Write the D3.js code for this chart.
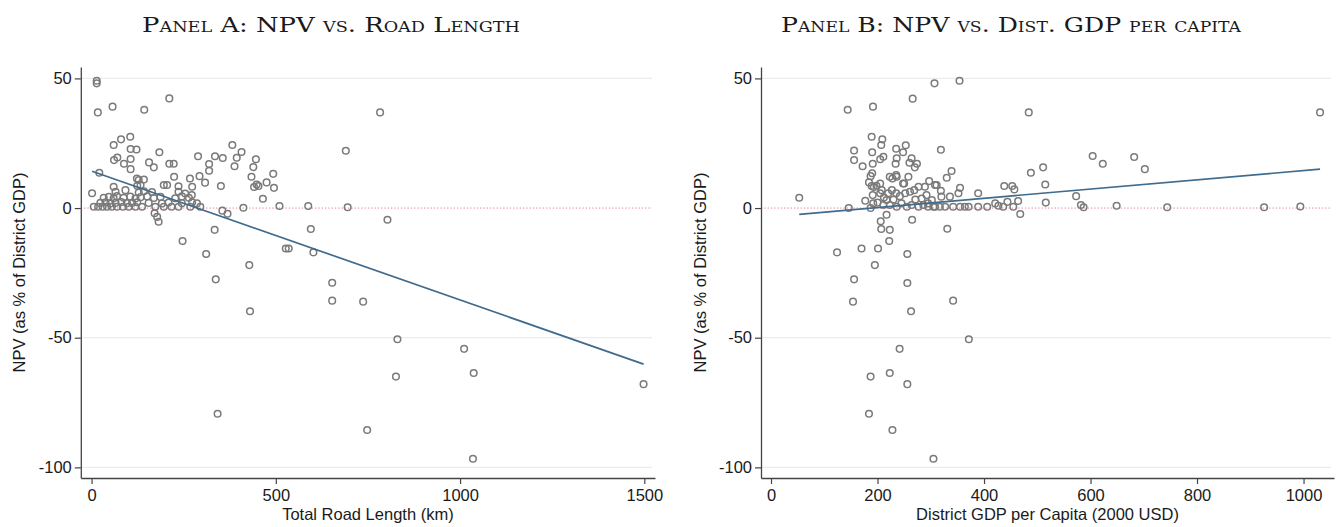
<!DOCTYPE html>
<html>
<head>
<meta charset="utf-8">
<script src="https://cdn.jsdelivr.net/npm/d3@7"></script>
<style>
  body { margin: 0; background: #fff; }
  svg text { font-family: "Liberation Sans", Arial, sans-serif; fill: #1a1a1a; }
  .title { font-family: "DejaVu Serif", "Liberation Serif", serif !important; font-variant: small-caps; }
</style>
</head>
<body>
<svg id="chart"></svg>
<script>
// Panel A: total road length (km) vs NPV (% of district GDP)
const roadLength = [14,14,17,57,143,211,60,80,105,106,122,184,61,70,88,106,106,156,169,211,223,21,123,224,289,335,356,319,319,382,407,394,388,446,439,493,434,448,441,453,475,495,465,510,588,595,267,293,308,351,355,369,412,334,247,311,527,535,602,428,337,653,430,653,737,830,1011,1037,826,1498,342,748,1035,783,690,695,803,
  6,18,30,42,55,69,85,101,119,137,173,196,217,236,268,295,
  24,38,51,65,81,96,110,124,155,191,209,245,273,286,
  33,47,60,69,87,105,119,133,151,169,187,227,245,264,
  1.4,65,92,128,142,164,236,254,272,
  60,124,133,196,205,236,273,
  128,142,
  171,178,182];
const npvA = [49.1,48.1,36.9,39.1,37.9,42.3,24.3,26.5,27.5,22.8,22.6,21.5,18.5,19.5,17.1,18.9,15,17.6,15.7,17.1,17.1,13.6,11.4,12.1,20,20,19.3,17,14.4,24.3,21.6,19.4,16.1,18.8,15.8,13.2,12.1,9.1,8.1,8.5,9.9,7.8,3.6,0.8,0.8,-8.1,11.4,12.3,9.8,8.5,-1,-2.2,0.1,-8.4,-12.7,-17.7,-15.6,-15.6,-17.1,-22,-27.5,-28.8,-39.8,-35.7,-36.1,-50.6,-54.3,-63.6,-65,-67.9,-79.3,-85.6,-96.7,36.9,22.1,0.3,-4.5,
  0.5,0.5,0.5,0.5,0.5,0.5,0.5,0.5,0.5,0.5,0.5,0.5,0.5,0.5,0.5,0.5,
  2,2.2,1.8,2,2.3,1.9,2,2.2,2,1.8,2.1,1.9,2.2,1.8,
  4,4.3,3.8,4.6,4,4.4,3.7,4.2,4.5,3.9,4.3,3.8,4.5,4,
  5.7,6.3,6.9,6,6.5,6.2,6.3,5.6,5,
  8.2,8.6,8.9,8.9,8.9,8.4,8.2,
  10.8,11,
  -2,-3.4,-5.3];
const fitA = [[1.4, 14.2], [1498, -60.2]];

// Panel B: district GDP per capita (2000 USD) vs NPV
const gdpPerCapita = [53,144,191.5,266,307,354,484,1031,
  189,209,207,156,156,190,235,253,248,319,211,205,191,172,236,234,264,260,274,270,339,330,190,187,228,236,258,184,198,193,250,208,191,177,297,308,319,289,355,389,438,453,457,464,468,146,187,217,265,206,207,223,331,222,364,371,389,406,421,427,436,604,623,682,702,511,488,515,516,444,573,582,587,649,744,926,994,
  124,170,201,256,195,156,256,154,342,263,371.5,241.5,223,187,256,184,228,305,
  189,205,205,212,220,227,235,242,252,261,269,277,311,223,235,248,
  192,200,211,223,236,245,255,264,277,286,295,308,217,230,271,283,302,
  292,295,305,317,327,342,355,320,336,352,455];
const npvB = [4.0,37.9,39.1,42.2,48.1,49.1,36.9,36.9,
  27.5,26.5,24.3,22.2,18.5,21.5,22.9,24.2,21.5,22.5,19.8,18.8,17.1,16.1,19.2,17.1,19.2,17.5,17.1,15.7,14.3,11.7,13.4,12.3,11.4,12.1,12.1,9.9,8.6,8.1,9.5,6.9,5.0,2.8,10.4,8.9,6.7,8.2,7.8,5.7,8.5,8.5,7.2,2.7,-2.3,0,0,-2.6,-4.5,-5.1,-8.1,-8.4,-8,-12.7,0.5,0.5,0.5,0.5,1.8,0.9,0.5,20.1,17.1,19.7,15.0,15.7,13.6,9.1,2.1,2.4,4.6,1.2,0.3,0.9,0.3,0.3,0.6,
  -17.1,-15.6,-15.6,-17.7,-22,-27.5,-28.9,-36.1,-35.7,-39.8,-50.6,-54.3,-63.6,-65,-67.9,-79.3,-85.6,-96.7,
  8.5,9.5,5.7,4.1,5.7,6.9,5.7,4.6,5.7,6.3,6.9,8.2,8.9,12.1,12.7,9.5,
  1.8,2.1,1.2,1.2,0.5,1.8,0.5,1.2,0.5,1.2,0.5,0.5,3.1,3.3,3.3,3.7,3.1,
  5.0,1.8,0.5,0.5,0.5,0.5,0.5,4.4,4.4,5.7,0.5];
const fitB = [[53, -2.4], [1031, 15.0]];

const yTicks = [-100, -50, 0, 50];
const xTicksA = [0, 500, 1000, 1500];
const xTicksB = [0, 200, 400, 600, 800, 1000];

const titleA = "Panel A: NPV vs. Road Length";
const titleB = "Panel B: NPV vs. Dist. GDP per capita";
const yLabel = "NPV (as % of District GDP)";
const xLabelA = "Total Road Length (km)";
const xLabelB = "District GDP per Capita (2000 USD)";

const svg = d3.select('#chart')
    .attr('width', 1340)
    .attr('height', 527);

function drawPanel(cfg) {
    const xs = d3.scaleLinear().domain(cfg.xdomain).range([cfg.left, cfg.right]);
    const ys = d3.scaleLinear().domain([-104.1, 54.4]).range([cfg.bottom, cfg.top]);
    const g = svg.append('g');

    // grid lines
    g.selectAll('.grid')
        .data(yTicks.filter(d => d !== 0))
        .join('line')
        .attr('x1', cfg.left).attr('x2', cfg.right - 3)
        .attr('y1', d => ys(d)).attr('y2', d => ys(d))
        .attr('stroke', '#ececec')
        .attr('stroke-width', 1.2);

    // zero reference line
    g.append('line')
        .attr('x1', cfg.left).attr('x2', cfg.right - 3)
        .attr('y1', ys(0)).attr('y2', ys(0))
        .attr('stroke', '#e3808f')
        .attr('stroke-width', 1)
        .attr('stroke-dasharray', '1.3,2');

    // axes
    const fmt = d => String(d);
    const yaxis = d3.axisLeft(ys).tickValues(yTicks).tickFormat(fmt)
        .tickSize(6).tickSizeOuter(0).tickPadding(3);
    const xaxis = d3.axisBottom(xs).tickValues(cfg.xticks).tickFormat(fmt)
        .tickSize(6).tickSizeOuter(0).tickPadding(5);

    const ya = g.append('g')
        .attr('transform', `translate(${cfg.left}, 0)`)
        .call(yaxis);
    const xa = g.append('g')
        .attr('transform', `translate(0, ${cfg.bottom})`)
        .call(xaxis);
    [ya, xa].forEach(a => {
        a.select('.domain').attr('stroke', '#444').attr('stroke-width', 1.3);
        a.selectAll('.tick line').attr('stroke', '#444').attr('stroke-width', 1.2);
        a.selectAll('.tick text')
            .attr('font-size', 16.5)
            .attr('font-family', '"Liberation Sans", Arial, sans-serif')
            .attr('fill', '#1a1a1a');
    });

    // points
    g.selectAll('.pt')
        .data(d3.zip(cfg.xvals, cfg.yvals))
        .join('circle')
        .attr('cx', d => xs(d[0]))
        .attr('cy', d => ys(d[1]))
        .attr('r', 3.3)
        .attr('fill', 'none')
        .attr('stroke', '#7a7a7a')
        .attr('stroke-width', 1.5);

    // fitted line
    g.append('path')
        .attr('d', d3.line().x(d => xs(d[0])).y(d => ys(d[1]))(cfg.fit))
        .attr('fill', 'none')
        .attr('stroke', '#3f6b8e')
        .attr('stroke-width', 1.7);

    // labels
    g.append('text')
        .attr('class', 'title')
        .attr('x', cfg.titleX).attr('y', 32)
        .attr('text-anchor', 'middle')
        .attr('font-size', 20.5)
        .attr('textLength', cfg.titleW)
        .attr('lengthAdjust', 'spacingAndGlyphs')
        .text(cfg.title);

    g.append('text')
        .attr('x', (cfg.left + cfg.right) / 2).attr('y', 520)
        .attr('text-anchor', 'middle')
        .attr('font-size', 16.5)
        .text(cfg.xlabel);

    g.append('text')
        .attr('transform', `translate(${cfg.ylabelX}, ${(cfg.top + cfg.bottom) / 2}) rotate(-90)`)
        .attr('text-anchor', 'middle')
        .attr('dy', '0.35em')
        .attr('font-size', 16.5)
        .text(yLabel);
}

drawPanel({
    left: 80.8, right: 655, top: 67, bottom: 478,
    xdomain: [-29.2, 1529],
    xticks: xTicksA, xvals: roadLength, yvals: npvA, fit: fitA,
    title: titleA, titleX: 331, titleW: 378, xlabel: xLabelA, ylabelX: 19.5
});

drawPanel({
    left: 761, right: 1334, top: 67, bottom: 478,
    xdomain: [-18.8, 1057.2],
    xticks: xTicksB, xvals: gdpPerCapita, yvals: npvB, fit: fitB,
    title: titleB, titleX: 1011, titleW: 460, xlabel: xLabelB, ylabelX: 700
});
</script>
</body>
</html>
